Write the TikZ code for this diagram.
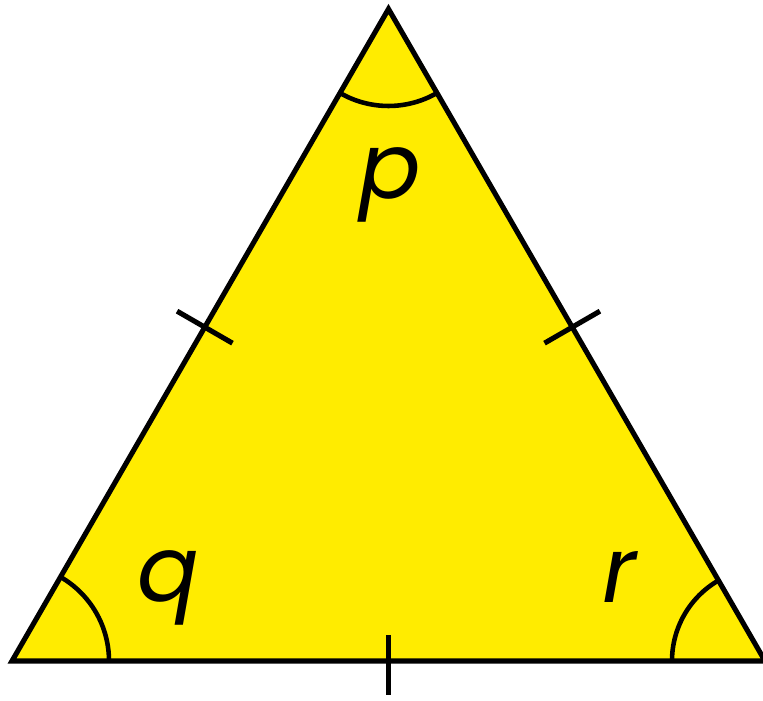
\documentclass[tikz,border=0pt]{standalone}
\usepackage{fontspec}
\newfontfamily\lblfont{Poppins}
\usepackage{tikz}
\usetikzlibrary{calc}
\definecolor{trifill}{RGB}{255,236,0}
\definecolor{triedge}{RGB}{0,0,0}
\tikzset{
  tri/.style={draw=triedge, fill=trifill, line width=1.45pt, line join=miter},
  angarc/.style={draw=triedge, line width=1.3pt},
  tick/.style={draw=triedge, line width=1.45pt},
  anglbl/.style={font=\fontsize{26}{30}\selectfont\lblfont\itshape, inner sep=0pt, anchor=base}
}
\begin{document}
\begin{tikzpicture}[x=0.01cm,y=0.01cm]
  \useasboundingbox (0,0) rectangle (763,701);
  % corners
  \coordinate (q0) at (12,40);
  \coordinate (r0) at (765,40);
  \coordinate (p0) at (388.5,692);
  \draw[tri] (q0) -- (r0) -- (p0) -- cycle;
  % angle arcs
  \draw[angarc] ($(q0)+(97,0)$) arc[start angle=0, end angle=60, radius=97];
  \draw[angarc] ($(r0)+(-93,0)$) arc[start angle=180, end angle=120, radius=93];
  \draw[angarc] ($(p0)+(240:97)$) arc[start angle=240, end angle=300, radius=97];
  % equal sides
  \coordinate (mqp) at ($(q0)!0.512!(p0)$);
  \coordinate (mrp) at ($(r0)!0.512!(p0)$);
  \coordinate (mqr) at ($(q0)!0.5!(r0)$);
  \draw[tick] ($(mqp)+(150:32)$) -- ($(mqp)+(-30:32)$);
  \draw[tick] ($(mrp)+(30:32)$) -- ($(mrp)+(210:32)$);
  \draw[tick] ($(mqr)+(0,26)$) -- ($(mqr)+(0,-34)$);
  % labels
  \node[anglbl] (lp) at (390,502) {p};
  \node[anglbl] (lq) at (168,99) {q};
  \node[anglbl] (lr) at (620,98) {r};
\end{tikzpicture}
\end{document}
